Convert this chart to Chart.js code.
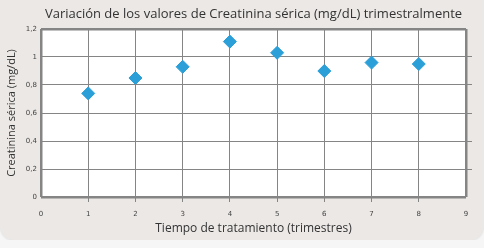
<!DOCTYPE html>
<html>
<head>
<meta charset="utf-8">
<script src="https://cdn.jsdelivr.net/npm/chart.js@4.4.0/dist/chart.umd.min.js"></script>
<style>
  html, body { margin: 0; padding: 0; background: #f6f6f6; }
  #wrap {
    position: relative; width: 484px; height: 240px;
    background: #ebe8e6; border-radius: 0 0 14px 14px;
    box-shadow: 0 1px 2px rgba(0,0,0,0.08);
  }
  canvas { position: absolute; left: 0; top: 0; }
</style>
</head>
<body>
<div id="wrap"><canvas id="c" width="484" height="248"></canvas></div>
<script>
// ── Datos ─────────────────────────────────────────────
const trimestres = [1, 2, 3, 4, 5, 6, 7, 8];
const creatinina = [0.74, 0.85, 0.93, 1.11, 1.03, 0.90, 0.96, 0.95];
const yTicks     = [0, 0.2, 0.4, 0.6, 0.8, 1, 1.2];
const TITULO     = 'Variación de los valores de Creatinina sérica (mg/dL) trimestralmente';

const COLORS = {
  point: '#2a9fd8',
  grid:  '#858585',
  frame: '#858585',
  text:  '#333333',
  tick:  '#444444',
};

const edge = (v, a, b) => Math.abs(v - a) < 1e-9 || Math.abs(v - b) < 1e-9;

// fondo blanco del area + titulo centrado sobre el area de trazado
const panel = {
  id: 'panel',
  beforeDraw(chart) {
    const { ctx, chartArea: a } = chart;
    ctx.save();
    ctx.fillStyle = '#ffffff';
    ctx.fillRect(a.left, a.top, a.right - a.left, a.bottom - a.top);
    ctx.restore();
  },
  afterDraw(chart) {
    const { ctx, chartArea: a } = chart;
    ctx.save();
    ctx.fillStyle = COLORS.text;
    ctx.font = '13px "Open Sans"';
    ctx.textAlign = 'center';
    ctx.textBaseline = 'middle';
    ctx.fillText(TITULO, (a.left + a.right) / 2, 14);
    ctx.restore();
  },
};

new Chart(document.getElementById('c').getContext('2d'), {
  type: 'scatter',
  data: {
    datasets: [{
      data: trimestres.map((t, i) => ({ x: t, y: creatinina[i] })),
      pointStyle: 'rectRot',
      pointRadius: 6.5,
      pointHoverRadius: 6.5,
      backgroundColor: COLORS.point,
      borderColor: COLORS.point,
      borderWidth: 1,
    }]
  },
  plugins: [panel],
  options: {
    responsive: false,
    animation: false,
    layout: { padding: { left: 0, right: 12, top: 29, bottom: 0 } },
    plugins: {
      legend: { display: false },
      tooltip: { enabled: false },
      title: { display: false },
    },
    scales: {
      x: {
        type: 'linear',
        min: 0, max: 9,
        afterFit: s => { s.height = 51; },
        ticks: {
          stepSize: 1,
          color: COLORS.tick,
          font: { family: 'DejaVu Sans', size: 7 },
          padding: 8,
        },
        grid: {
          color: ctx => edge(ctx.tick.value, 0, 9) ? COLORS.frame : COLORS.grid,
          lineWidth: ctx => edge(ctx.tick.value, 0, 9) ? 2.5 : 1,
          tickColor: ctx => edge(ctx.tick.value, 0, 9) ? 'rgba(0,0,0,0)' : COLORS.grid,
          tickLength: 5,
        },
        border: { display: false },
        title: {
          display: true,
          text: 'Tiempo de tratamiento (trimestres)',
          color: COLORS.text,
          font: { family: 'Open Sans', size: 12, lineHeight: 1.2 },
          padding: { top: 0, bottom: 12 },
        },
      },
      y: {
        min: 0, max: 1.2,
        afterFit: s => { s.width = 41; },
        afterBuildTicks: s => { s.ticks = yTicks.map(v => ({ value: v })); },
        ticks: {
          color: COLORS.tick,
          font: { family: 'DejaVu Sans', size: 7 },
          padding: 4,
          callback: v => String(v).replace('.', ','),
        },
        grid: {
          color: ctx => edge(ctx.tick.value, 0, 1.2) ? COLORS.frame : COLORS.grid,
          lineWidth: ctx => edge(ctx.tick.value, 0, 1.2) ? 2.5 : 1,
          drawTicks: false,
        },
        border: { display: false },
        title: {
          display: true,
          text: 'Creatinina sérica (mg/dL)',
          color: COLORS.text,
          font: { family: 'Open Sans', size: 11, lineHeight: 1.2 },
          padding: { top: 5, bottom: 0 },
        },
      },
      // marcas a la derecha del marco
      y2: {
        position: 'right',
        min: 0, max: 1.2,
        afterFit: s => { s.width = 6; },
        afterBuildTicks: s => { s.ticks = yTicks.map(v => ({ value: v })); },
        ticks: { display: false },
        grid: {
          drawOnChartArea: false,
          tickLength: 6,
          tickColor: ctx => edge(ctx.tick.value, 0, 1.2) ? 'rgba(0,0,0,0)' : COLORS.grid,
        },
        border: { display: false },
      },
    },
  },
});
</script>
</body>
</html>
